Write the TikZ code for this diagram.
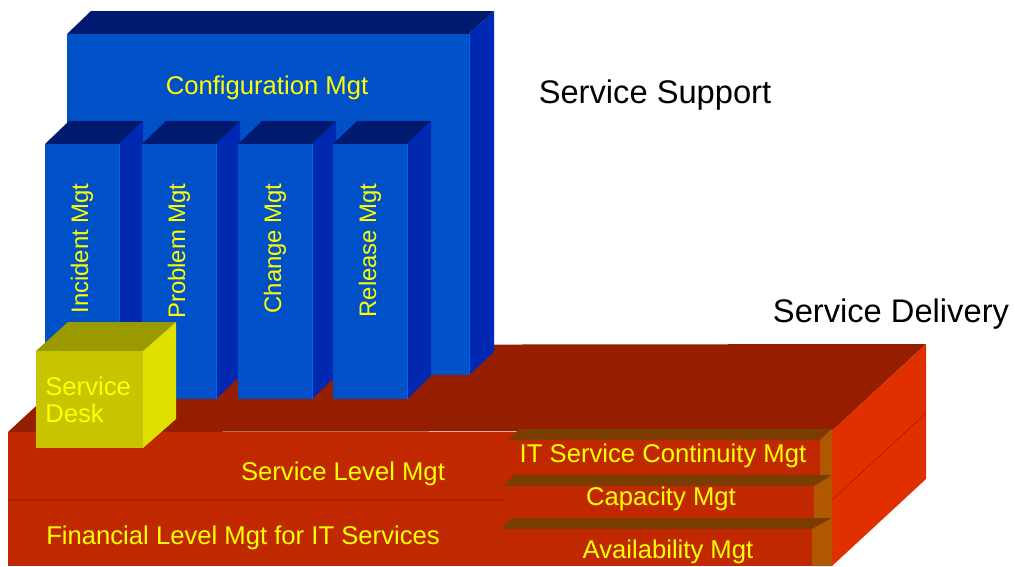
\documentclass[tikz,border=0pt]{standalone}
\usepackage{fontspec}
\setmainfont{Liberation Sans}
\usetikzlibrary{positioning}

\begin{document}
\begin{tikzpicture}[x=0.02cm,y=-0.02cm,
	yellow text/.style={text=labelyellow,inner sep=0pt,font=\fontsize{14.6}{15.3}\selectfont},
	column text/.style={yellow text,rotate=90,anchor=east,font=\fontsize{13.6}{15}\selectfont},
	title text/.style={text=black,inner sep=0pt,font=\fontsize{18.6}{20}\selectfont}]
	
	\definecolor{labelyellow}{RGB}{255,255,0}
	\definecolor{bluefront}{RGB}{0,80,200}
	\definecolor{bluetop}{RGB}{0,26,112}
	\definecolor{blueside}{RGB}{0,40,176}
	\definecolor{blueedge}{RGB}{0,100,240}
	\definecolor{redfront}{RGB}{192,40,0}
	\definecolor{redtop}{RGB}{150,30,0}
	\definecolor{redside}{RGB}{224,48,0}
	\definecolor{redline}{RGB}{168,34,0}
	\definecolor{browntop}{RGB}{122,60,0}
	\definecolor{brownside}{RGB}{176,88,0}
	\definecolor{deskfront}{RGB}{200,196,0}
	\definecolor{desktop}{RGB}{153,153,0}
	\definecolor{deskside}{RGB}{224,224,0}
	
	\useasboundingbox (0,0) rectangle (1015,566);
	
	% service delivery slab
	\fill[redtop] (8,432) -- (102,345) -- (926,344) -- (832,431) -- cycle;
	\fill[redfront] (8,432) rectangle (832,566);
	\draw[redline,thick] (8,500) -- (832,500);
	\fill[redside] (832,431) -- (926,344) -- (926,479) -- (832,566) -- cycle;
	\draw[redline] (832,500) -- (926,413);
	
	% configuration block
	\fill[bluetop] (67,34) -- (91,11) -- (494,11) -- (469,34) -- cycle;
	\fill[blueside] (469,34) -- (494,11) -- (494,352) -- (469,375) -- cycle;
	\fill[bluefront] (67,34) rectangle (469,375);
	\draw[blueedge] (469,34) -- (469,375);
	\node[yellow text] (config) at (267,88) {Configuration Mgt};
	
	% process columns
	\foreach \x/\name in {45/Incident,142/Problem,238/Change,333/Release}{
		\fill[bluetop] (\x,144) -- (\x+24,121) -- (\x+98,121) -- (\x+74,144) -- cycle;
		\fill[blueside] (\x+74,144) -- (\x+98,121) -- (\x+98,376) -- (\x+74,399) -- cycle;
		\fill[bluefront] (\x,144) rectangle (\x+74,399);
		\draw[blueedge] (\x+74,144) -- (\x+74,399);
		\node[column text] (\name) at (\x+37,183) {\name{} Mgt};
	}
	
	% service desk
	\fill[desktop] (36,351) -- (68,322) -- (176,322) -- (143,351) -- cycle;
	\fill[deskside] (143,351) -- (176,322) -- (176,419) -- (143,448) -- cycle;
	\fill[deskfront] (36,351) rectangle (143,448);
	\node[yellow text,anchor=west,align=left] (desk) at (45,400) {Service\\Desk};
	
	% small delivery boxes
	\foreach \l/\r/\t/\b in {508/820/440/475,503/814/486/519,501/812/529/566}{
		\fill[browntop] (\l,\t) -- (\l+11,\t-11) -- (832,\t-11) -- (\r,\t) -- cycle;
		\fill[brownside] (\r,\t) -- (832,\t-11) -- (832,\b) -- (\r,\b) -- cycle;
		\fill[redfront] (\l,\t) rectangle (\r,\b);
	}
	
	\node[yellow text] (level) at (343,474) {Service Level Mgt};
	\node[yellow text] (financial) at (243,538) {Financial Level Mgt for IT Services};
	\node[yellow text] (continuity) at (663,456) {IT Service Continuity Mgt};
	\node[yellow text] (capacity) at (661,499) {Capacity Mgt};
	\node[yellow text] (availability) at (668,552) {Availability Mgt};
	
	\node[title text] (support) at (655,95) {Service Support};
	\node[title text] (delivery) at (891,314) {Service Delivery};
\end{tikzpicture}
\end{document}
